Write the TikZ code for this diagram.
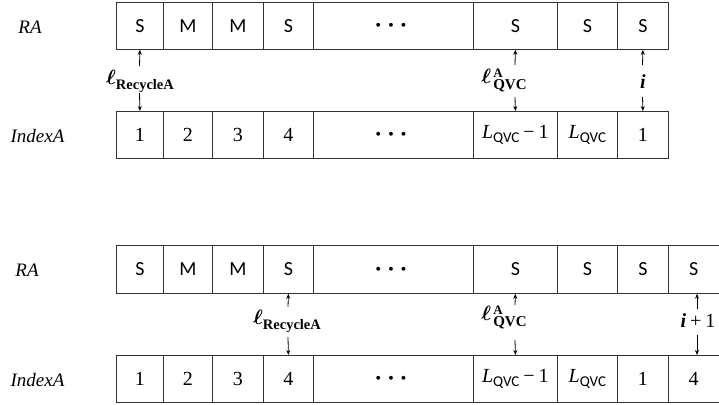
\documentclass[tikz,border=0pt]{standalone}
\usepackage{amsmath,bm}
\usepackage{fontspec}
\setmainfont{Liberation Serif}
\newfontfamily\calfont{Carlito}
\usetikzlibrary{arrows.meta}
\newcommand{\Lqvc}{\textit{L}\raisebox{-4pt}{\fontsize{15}{15}\selectfont\calfont QVC}}
\newcommand{\Lqm}{\Lqvc\hspace{4pt}−\hspace{4pt}1}
\newcommand{\dotsx}{{\fontsize{29}{29}\selectfont\boldmath$\cdots$}}
\newcommand{\ellR}{{\fontsize{22}{22}\selectfont$\bm{\ell}$}\raisebox{-5pt}{\fontsize{14.5}{14.5}\selectfont\bfseries RecycleA}}
\newcommand{\ellQ}{{\fontsize{22}{22}\selectfont$\bm{\ell}$}\hspace{2pt}\begin{tabular}[c]{@{}l@{}}\fontsize{13}{13}\selectfont\bfseries A\\[-1pt]\fontsize{15}{15}\selectfont\bfseries QVC\end{tabular}}
\tikzset{
  cell/.style={draw=black!80, line width=0.8pt, anchor=north west, inner sep=0pt},
  rcell/.style={cell, font=\fontsize{20}{20}\selectfont\calfont},
  icell/.style={cell, font=\fontsize{20}{20}\selectfont},
  rowlab/.style={font=\fontsize{19}{19}\selectfont\itshape},
  ptr/.style={inner sep=0pt},
  arr/.style={line width=0.8pt, -{Stealth[length=5pt,width=4pt]}}
}
\begin{document}
\begin{tikzpicture}[x=1pt,y=-1pt]
\useasboundingbox (0,0) rectangle (719,404);
% ---------- top diagram ----------
\node[rowlab] (la1) at (30,27) {RA};
\node[rowlab] (lb1) at (37.5,136) {IndexA};
\foreach \n/\x/\w/\t in {1/116/47/S,2/163/49/M,3/212/51/M,4/263/50/S,5/313/160/\dotsx,6/473/84/S,7/557/60/S,8/617/51/S}
  \node[rcell, minimum width=\w pt, minimum height=47pt] (ta\n) at (\x,2) {\t};
\foreach \n/\x/\w/\t in {1/116/47/1,2/163/49/2,3/212/51/3,4/263/50/4,5/313/160/\dotsx,6/473/84/\Lqm,7/557/60/\Lqvc,8/617/51/1}
  \node[icell, minimum width=\w pt, minimum height=47pt] (tb\n) at (\x,111) {\t};
% pointers top
\node[ptr] (tp1) at (140,81) {\ellR};
\node[ptr] (tp2) at (504,81) {\ellQ};
\node[ptr, font=\fontsize{20}{20}\selectfont] (tp3) at (643,82) {\textbf{\textit{i}}};
\coordinate (tu1) at (139.5,66);
\coordinate (td1) at (139.5,93);
\coordinate (tu2) at (515,65);
\coordinate (td2) at (515,97);
\coordinate (tu3) at (642.5,65);
\coordinate (td3) at (642.5,97);
\draw[arr] (tu1) -- (ta1.south);
\draw[arr] (td1) -- (tb1.north);
\draw[arr] (tu2) -- (ta6.south);
\draw[arr] (td2) -- (tb6.north);
\draw[arr] (tu3) -- (ta8.south);
\draw[arr] (td3) -- (tb8.north);
% ---------- bottom diagram ----------
\node[rowlab] (la2) at (27,270) {RA};
\node[rowlab] (lb2) at (37.5,380) {IndexA};
\foreach \n/\x/\w/\t in {1/116/47/S,2/163/49/M,3/212/51/M,4/263/50/S,5/313/160/\dotsx,6/473/84/S,7/557/60/S,8/617/51/S,9/668/50.5/S}
  \node[rcell, minimum width=\w pt, minimum height=48pt] (ba\n) at (\x,245) {\t};
\foreach \n/\x/\w/\t in {1/116/47/1,2/163/49/2,3/212/51/3,4/263/50/4,5/313/160/\dotsx,6/473/84/\Lqm,7/557/60/\Lqvc,8/617/51/1,9/668/50.5/4}
  \node[icell, minimum width=\w pt, minimum height=47pt] (bb\n) at (\x,355) {\t};
\node[ptr] (bp1) at (287,321) {\ellR};
\node[ptr] (bp2) at (504,318) {\ellQ};
\node[ptr, font=\fontsize{20}{20}\selectfont] (bp3) at (698,321) {\textbf{\textit{i}}\hspace{4pt}+\hspace{4pt}1};
\coordinate (bu1) at (288,307);
\coordinate (bd1) at (288,337);
\coordinate (bu2) at (515,305);
\coordinate (bd2) at (515,340);
\coordinate (bu3) at (697,309);
\coordinate (bd3) at (697,335);
\draw[arr] (bu1) -- (ba4.south);
\draw[arr] (bd1) -- (bb4.north);
\draw[arr] (bu2) -- (ba6.south);
\draw[arr] (bd2) -- (bb6.north);
\draw[arr] (bu3) -- (ba9.south -| bu3);
\draw[arr] (bd3) -- (bb9.north -| bd3);
\end{tikzpicture}
\end{document}
